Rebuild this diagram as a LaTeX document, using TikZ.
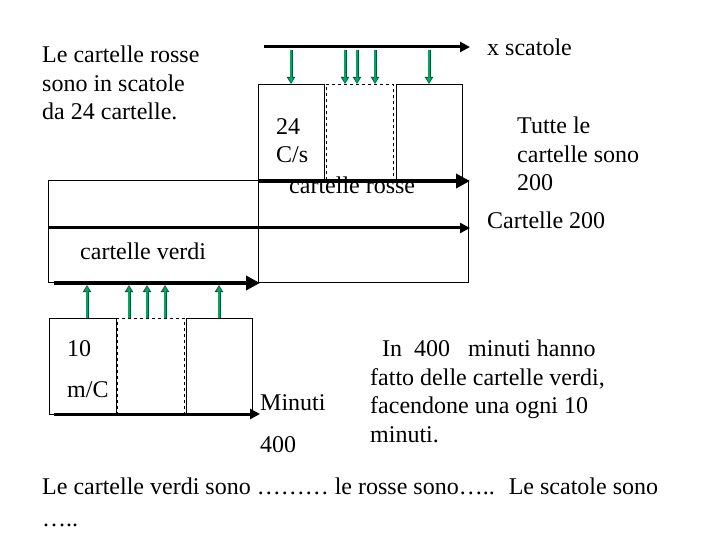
\documentclass[tikz,border=0pt]{standalone}
\usepackage{fontspec}
\setmainfont{Liberation Serif}
\usetikzlibrary{arrows.meta}
\begin{document}
\begin{tikzpicture}[x=1pt,y=-1pt,
  txt/.style={inner sep=0pt,anchor=north west,align=left,font=\fontsize{24}{28.5}\selectfont},
  box/.style={draw,line width=0.8pt},
  dbox/.style={draw,dashed,line width=0.8pt},
  bar/.style={line width=4pt,-{Triangle[length=14pt,width=14pt]}},
  thin/.style={line width=3pt,-{Triangle[length=10pt,width=10pt]}},
  grn/.style={draw=teal!60!black,line width=3pt,-{Triangle[length=7pt,width=8pt]}},
  grnin/.style={draw=teal!70!green,line width=1.8pt,-{Triangle[length=5pt,width=5pt]}}]
\useasboundingbox (0,0) rectangle (720,540);
\node[box,minimum width=210pt,minimum height=102pt,inner sep=0pt,anchor=north west] (L) at (48,180) {};
\node[box,minimum width=210pt,minimum height=102pt,inner sep=0pt,anchor=north west] (R) at (258,180) {};
\node[box,minimum width=66pt,minimum height=97pt,inner sep=0pt,anchor=north west] (t1) at (258,84) {};
\node[dbox,minimum width=67pt,minimum height=97pt,inner sep=0pt,anchor=north west] (t2) at (326,84) {};
\node[box,minimum width=66pt,minimum height=97pt,inner sep=0pt,anchor=north west] (t3) at (396,84) {};
\node[box,minimum width=67pt,minimum height=96pt,inner sep=0pt,anchor=north west] (b1) at (49,318) {};
\node[dbox,minimum width=67pt,minimum height=96pt,inner sep=0pt,anchor=north west] (b2) at (117,318) {};
\node[box,minimum width=66pt,minimum height=96pt,inner sep=0pt,anchor=north west] (b3) at (186,318) {};
\coordinate (xs0) at (264,47); \coordinate (xs1) at (470,47);
\draw[thin] (xs0) -- (xs1);
\coordinate (r0) at (258,181); \coordinate (r1) at (470,181);
\draw[bar] (r0) -- (r1);
\coordinate (m0) at (48,228); \coordinate (m1) at (470,228);
\draw[thin] (m0) -- (m1);
\coordinate (v0) at (54,283); \coordinate (v1) at (260,283);
\draw[bar] (v0) -- (v1);
\coordinate (n0) at (54,414); \coordinate (n1) at (260,414);
\draw[thin] (n0) -- (n1);
\foreach \x in {291,345,357,375,429}{
  \draw[grn] (\x,50) -- (\x,84);
  \draw[grnin] (\x,50) -- (\x,83);
}
\foreach \x in {87,129,147,165,219}{
  \draw[grn] (\x,318) -- (\x,285);
  \draw[grnin] (\x,318) -- (\x,286);
}
\node[txt] (a) at (42,46) {Le cartelle rosse\\sono in scatole\\da 24 cartelle.};
\node[txt] (xs) at (487,39) {x scatole};
\node[txt] (tt) at (517,117) {Tutte le\\cartelle sono\\200};
\node[txt] (c2) at (487,212) {Cartelle 200};
\node[txt] (cs) at (276,118) {24\\C/s};
\node[txt] (cr) at (289,177) {cartelle rosse};
\node[txt] (cv) at (80,243) {cartelle verdi};
\node[txt] (d10) at (67,340) {10};
\node[txt] (mc) at (67,381) {m/C};
\node[txt] (mi) at (260,394) {Minuti};
\node[txt] (f4) at (260,436) {400};
\node[txt] (p) at (370,340) {\ \ In \ 400 \ \ minuti hanno\\fatto delle cartelle verdi,\\facendone una ogni 10\\minuti.};
\node[txt,font=\fontsize{24}{32}\selectfont] (bt) at (42,478) {Le cartelle verdi sono \dots\dots\dots\ le rosse sono\dots.. \ Le scatole sono\\\dots..};
\end{tikzpicture}
\end{document}
